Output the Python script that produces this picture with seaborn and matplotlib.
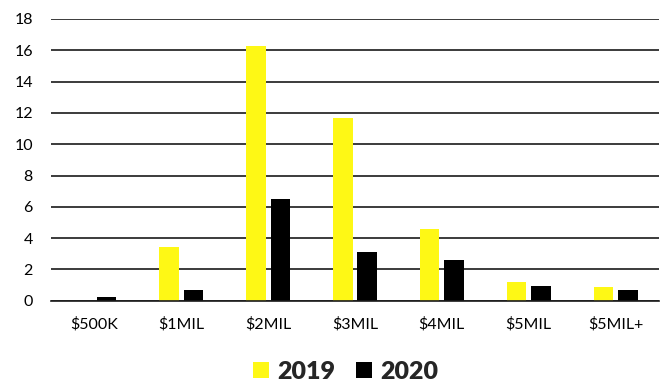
import matplotlib
matplotlib.use("Agg")
import matplotlib.pyplot as plt
from matplotlib.patches import Patch
import seaborn as sns
import pandas as pd

categories = ["$500K", "$1MIL", "$2MIL", "$3MIL", "$4MIL", "$5MIL", "$5MIL+"]
values_2019 = [0.0, 3.4, 16.3, 11.7, 4.6, 1.2, 0.9]
values_2020 = [0.25, 0.7, 6.5, 3.1, 2.6, 0.95, 0.7]
years = ["2019", "2020"]
y_ticks = [0, 2, 4, 6, 8, 10, 12, 14, 16, 18]

colors = {"2019": "#FEF815", "2020": "#000000"}

df = pd.DataFrame({
    "category": categories * 2,
    "year": [years[0]] * len(categories) + [years[1]] * len(categories),
    "value": values_2019 + values_2020,
})

sns.set_theme(style="white")
plt.rcParams["font.family"] = ["Lato", "DejaVu Sans"]

fig = plt.figure(figsize=(6.61, 3.83), dpi=100)
ax = fig.add_axes([51 / 661, 1 - 300.7 / 383, 608 / 661, 281.7 / 383])

sns.barplot(
    data=df, x="category", y="value", hue="year", order=categories,
    hue_order=years, palette=colors, width=0.563, gap=0.204,
    saturation=1, linewidth=0, legend=False, ax=ax,
)

ax.set_ylim(0, 18)
ax.set_xlim(-0.5, len(categories) - 0.5)
ax.set_yticks(y_ticks)
ax.set_yticklabels([str(t) for t in y_ticks])
ax.yaxis.grid(True, color="#1a1a1a", linewidth=1.2)
ax.set_axisbelow(True)
for s in ["top", "right", "left"]:
    ax.spines[s].set_visible(False)
ax.spines["bottom"].set_color("#1a1a1a")
ax.spines["bottom"].set_linewidth(1.2)
ax.set_xlabel("")
ax.set_ylabel("")
ax.tick_params(axis="both", length=0, labelsize=11.5, colors="#000000")
ax.tick_params(axis="x", pad=12)
ax.tick_params(axis="y", pad=13)

handles = [Patch(facecolor=colors[y], edgecolor="none") for y in years]
fig.legend(
    handles, years, loc="center", bbox_to_anchor=(345.5 / 661, 1 - 372 / 383),
    ncol=2, frameon=False, prop={"weight": "heavy", "size": 18},
    handlelength=0.64, handleheight=0.64, handletextpad=0.32,
    columnspacing=0.84, borderpad=0, borderaxespad=0,
)

fig.savefig("out.png", dpi=100)
